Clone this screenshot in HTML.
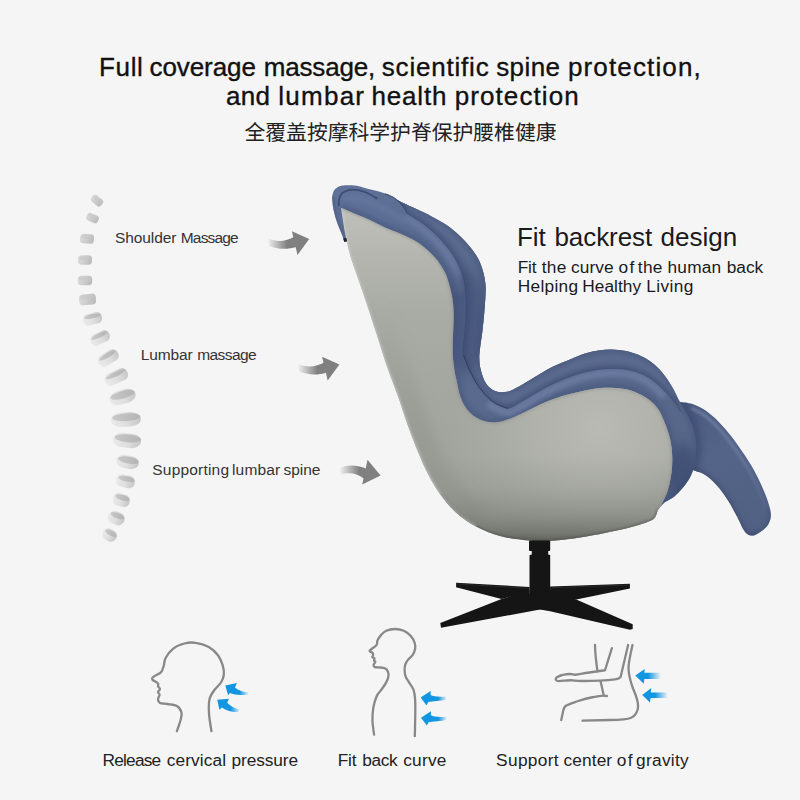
<!DOCTYPE html>
<html lang="en"><head><meta charset="utf-8"><title>Massage chair - fit backrest design</title>
<style>
html,body{margin:0;padding:0}
body{width:800px;height:800px;overflow:hidden;background:#f5f5f5;position:relative;font-family:"Liberation Sans",sans-serif}
.t{position:absolute;left:0;width:800px;height:1em;white-space:nowrap;line-height:1;font-family:"Liberation Sans",sans-serif;font-weight:400;word-spacing:0}
.t span{position:absolute;top:0}
svg{position:absolute;left:0;top:0}
</style></head><body>
<svg width="800" height="800" viewBox="0 0 800 800">
<defs><linearGradient id="gV" x1="0" y1="0" x2="1" y2="0.3"><stop offset="0" stop-color="#e0e0e0"/><stop offset=".5" stop-color="#d0d0d0"/><stop offset="1" stop-color="#bebebe"/></linearGradient><linearGradient id="gW" x1="0" y1="0" x2="1" y2="0"><stop offset="0" stop-color="#eaeaea"/><stop offset=".5" stop-color="#dfdfdf"/><stop offset="1" stop-color="#c6c6c6"/></linearGradient><linearGradient id="gT" x1="0" y1="0" x2="1" y2="0"><stop offset="0" stop-color="#c8c8c8"/><stop offset="1" stop-color="#b4b4b4"/></linearGradient></defs>
<g transform="translate(97 200.5) rotate(40)"><rect x="-6.25" y="-4.00" width="12.5" height="8" rx="2.88" fill="url(#gV)"/><rect x="-5.25" y="-3.20" width="10.0" height="3.36" rx="1.60" fill="#c4c4c4" opacity=".55"/></g>
<g transform="translate(92.5 218) rotate(25)"><rect x="-6.25" y="-4.00" width="12.5" height="8" rx="2.88" fill="url(#gV)"/><rect x="-5.25" y="-3.20" width="10.0" height="3.36" rx="1.60" fill="#c4c4c4" opacity=".55"/></g>
<g transform="translate(87 238.75) rotate(5)"><rect x="-7.00" y="-4.75" width="14" height="9.5" rx="3.42" fill="url(#gV)"/><rect x="-6.00" y="-3.95" width="11.5" height="3.99" rx="1.90" fill="#c4c4c4" opacity=".55"/></g>
<g transform="translate(85 260) rotate(0)"><rect x="-7.00" y="-4.75" width="14" height="9.5" rx="3.42" fill="url(#gV)"/><rect x="-6.00" y="-3.95" width="11.5" height="3.99" rx="1.90" fill="#c4c4c4" opacity=".55"/></g>
<g transform="translate(85 280.5) rotate(0)"><rect x="-7.25" y="-4.75" width="14.5" height="9.5" rx="3.42" fill="url(#gV)"/><rect x="-6.25" y="-3.95" width="12.0" height="3.99" rx="1.90" fill="#c4c4c4" opacity=".55"/></g>
<g transform="translate(87.5 299.5) rotate(-5)"><rect x="-8.50" y="-5.50" width="17" height="11" rx="3.96" fill="url(#gV)"/><rect x="-7.50" y="-4.70" width="14.5" height="4.62" rx="2.20" fill="#c4c4c4" opacity=".55"/></g>
<g transform="translate(92.5 318.75) rotate(-12)"><rect x="-9.75" y="-5.75" width="19.5" height="11.5" rx="4.83" ry="5.75" fill="url(#gW)"/><ellipse cx="0.39" cy="-2.53" rx="8.38" ry="2.19" fill="url(#gT)"/></g>
<g transform="translate(100 338) rotate(-25)"><rect x="-10.25" y="-5.75" width="20.5" height="11.5" rx="4.83" ry="5.75" fill="url(#gW)"/><ellipse cx="0.41" cy="-2.53" rx="8.81" ry="2.19" fill="url(#gT)"/></g>
<g transform="translate(108.25 358) rotate(-30)"><rect x="-11.00" y="-6.00" width="22" height="12" rx="5.04" ry="6.00" fill="url(#gW)"/><ellipse cx="0.44" cy="-2.64" rx="9.46" ry="2.28" fill="url(#gT)"/></g>
<g transform="translate(116.25 377) rotate(-25)"><rect x="-12.25" y="-6.25" width="24.5" height="12.5" rx="5.25" ry="6.25" fill="url(#gW)"/><ellipse cx="0.49" cy="-2.75" rx="10.54" ry="2.38" fill="url(#gT)"/></g>
<g transform="translate(122.5 397) rotate(-15)"><rect x="-13.50" y="-7.00" width="27" height="14" rx="9.72" ry="7.00" fill="url(#gW)"/><ellipse cx="0.54" cy="-2.10" rx="12.42" ry="3.78" fill="url(#gT)"/></g>
<g transform="translate(125.75 419.5) rotate(-3)"><rect x="-15.25" y="-7.25" width="30.5" height="14.5" rx="10.98" ry="7.25" fill="url(#gW)"/><ellipse cx="0.61" cy="-2.17" rx="14.03" ry="3.92" fill="url(#gT)"/></g>
<g transform="translate(127 440.5) rotate(5)"><rect x="-14.25" y="-7.25" width="28.5" height="14.5" rx="10.26" ry="7.25" fill="url(#gW)"/><ellipse cx="0.57" cy="-2.17" rx="13.11" ry="3.92" fill="url(#gT)"/></g>
<g transform="translate(127.5 462) rotate(10)"><rect x="-11.50" y="-6.50" width="23" height="13" rx="8.28" ry="6.50" fill="url(#gW)"/><ellipse cx="0.46" cy="-1.95" rx="10.58" ry="3.51" fill="url(#gT)"/></g>
<g transform="translate(125.5 481.25) rotate(12)"><rect x="-9.50" y="-6.25" width="19" height="12.5" rx="5.75" ry="6.25" fill="url(#gW)"/><ellipse cx="0.38" cy="-2.50" rx="7.98" ry="2.75" fill="url(#gT)"/></g>
<g transform="translate(121.25 500) rotate(18)"><rect x="-8.75" y="-6.25" width="17.5" height="12.5" rx="5.75" ry="6.25" fill="url(#gW)"/><ellipse cx="0.35" cy="-2.50" rx="7.35" ry="2.75" fill="url(#gT)"/></g>
<g transform="translate(116.25 518) rotate(22)"><rect x="-8.50" y="-6.50" width="17" height="13" rx="5.98" ry="6.50" fill="url(#gW)"/><ellipse cx="0.34" cy="-2.60" rx="7.14" ry="2.86" fill="url(#gT)"/></g>
<g transform="translate(109.5 535) rotate(30)"><rect x="-7.50" y="-6.00" width="15" height="12" rx="5.52" ry="6.00" fill="url(#gW)"/><ellipse cx="0.30" cy="-2.40" rx="6.30" ry="2.64" fill="url(#gT)"/></g>
<defs><linearGradient id="gA" gradientUnits="userSpaceOnUse" x1="267" y1="0" x2="287" y2="0"><stop offset="0" stop-color="#808080" stop-opacity="0"/><stop offset="1" stop-color="#808080" stop-opacity="1"/></linearGradient>
<linearGradient id="gA3" gradientUnits="userSpaceOnUse" x1="339" y1="0" x2="359" y2="0"><stop offset="0" stop-color="#808080" stop-opacity="0"/><stop offset="1" stop-color="#808080" stop-opacity="1"/></linearGradient></defs>
<g><path d="M268 238.5C276 242 286 242 294.5 236.5L296.7 246.8C287 250 277 249.2 269 246Z" fill="url(#gA)"/><path d="M291.9 231.2L309.2 238.9L297.5 255Z" fill="#808080"/></g>
<g transform="translate(30.2 125.6)"><path d="M268 238.5C276 242 286 242 294.5 236.5L296.7 246.8C287 250 277 249.2 269 246Z" fill="url(#gA)"/><path d="M291.9 231.2L309.2 238.9L297.5 255Z" fill="#808080"/></g>
<path d="M339.75 468C345 465.3 357 463.8 367.5 469.5L365 479.5C358 473.2 348 472 341.25 474.75Z" fill="url(#gA3)"/><path d="M367.5 459.75L380.6 475.5L362.25 484.5Z" fill="#808080"/>

<defs>
<linearGradient id="gIn" gradientUnits="userSpaceOnUse" x1="340" y1="190" x2="690" y2="480"><stop offset="0" stop-color="#5f7198"/><stop offset=".3" stop-color="#5a6b90"/><stop offset="1" stop-color="#57678a"/></linearGradient>
<linearGradient id="gGray" gradientUnits="userSpaceOnUse" x1="0" y1="208" x2="0" y2="520"><stop offset="0" stop-color="#c0c1bb"/><stop offset=".16" stop-color="#b4b5af"/><stop offset=".33" stop-color="#a9aba5"/><stop offset=".6" stop-color="#a4a6a0"/><stop offset="1" stop-color="#a0a29c"/></linearGradient>
<radialGradient id="gHi" gradientUnits="userSpaceOnUse" cx="600" cy="428" r="150"><stop offset="0" stop-color="#b9bab4" stop-opacity="1"/><stop offset=".45" stop-color="#b3b4ae" stop-opacity=".8"/><stop offset="1" stop-color="#aeb0aa" stop-opacity="0"/></radialGradient>
<linearGradient id="gLeg" gradientUnits="userSpaceOnUse" x1="690" y1="400" x2="760" y2="530"><stop offset="0" stop-color="#4a5a80"/><stop offset=".4" stop-color="#546488"/><stop offset="1" stop-color="#516184"/></linearGradient>
<linearGradient id="gRidge" gradientUnits="userSpaceOnUse" x1="0" y1="405" x2="0" y2="515"><stop offset="0" stop-color="#6d7da2" stop-opacity=".9"/><stop offset=".5" stop-color="#6a7a9f" stop-opacity=".7"/><stop offset="1" stop-color="#65759a" stop-opacity="0"/></linearGradient>
<linearGradient id="gLsh" gradientUnits="userSpaceOnUse" x1="0" y1="300" x2="0" y2="440"><stop offset="0" stop-color="#8a8c86" stop-opacity="0"/><stop offset="1" stop-color="#8a8c86" stop-opacity=".4"/></linearGradient>
<linearGradient id="gShade" gradientUnits="userSpaceOnUse" x1="0" y1="455" x2="0" y2="544"><stop offset="0" stop-color="#8a8c86" stop-opacity="0"/><stop offset=".35" stop-color="#8a8c86" stop-opacity=".25"/><stop offset=".65" stop-color="#7c7e78" stop-opacity=".55"/><stop offset=".88" stop-color="#686a64" stop-opacity=".8"/><stop offset="1" stop-color="#53554e" stop-opacity=".95"/></linearGradient>
<filter id="b05" filterUnits="userSpaceOnUse" x="300" y="150" width="500" height="420"><feGaussianBlur stdDeviation=".5"/></filter>
<filter id="b1" filterUnits="userSpaceOnUse" x="300" y="150" width="500" height="420"><feGaussianBlur stdDeviation="1"/></filter>
<filter id="b2" filterUnits="userSpaceOnUse" x="300" y="150" width="500" height="420"><feGaussianBlur stdDeviation="2"/></filter>
<filter id="b3" filterUnits="userSpaceOnUse" x="300" y="150" width="500" height="420"><feGaussianBlur stdDeviation="3"/></filter>
<filter id="b6" filterUnits="userSpaceOnUse" x="300" y="150" width="500" height="420"><feGaussianBlur stdDeviation="6"/></filter>
<clipPath id="cBlue"><path d="M332.0 197.5C332.2 196.5 332.8 193.1 333.5 191.5C334.2 189.9 335.0 189.0 336.5 188.0C338.0 187.0 339.4 186.0 342.5 185.6C345.6 185.2 350.8 185.1 355.0 185.6C359.2 186.1 362.5 187.4 367.5 188.8C372.5 190.1 379.6 191.5 385.0 193.6C390.4 195.7 395.5 199.3 400.0 201.5C404.5 203.7 407.8 205.1 412.0 207.0C416.2 208.9 420.8 210.9 425.0 213.0C429.2 215.1 432.8 217.1 437.0 219.5C441.2 221.9 445.1 223.7 450.0 227.5C454.9 231.3 461.7 237.5 466.2 242.5C470.8 247.5 474.7 252.7 477.5 257.5C480.3 262.3 481.7 267.0 483.0 271.2C484.3 275.5 484.9 279.5 485.3 283.0C485.7 286.5 485.8 287.8 485.6 292.5C485.5 297.2 484.9 304.8 484.4 311.0C483.9 317.2 483.2 323.7 482.5 330.0C481.8 336.3 480.5 344.1 480.0 348.8C479.5 353.4 479.2 354.5 479.3 358.0C479.4 361.5 479.6 365.8 480.8 370.0C481.9 374.2 483.6 380.0 486.0 383.5C488.4 387.0 491.5 389.6 495.0 391.0C498.5 392.4 503.0 392.5 507.0 391.8C511.0 391.0 514.5 388.9 519.0 386.5C523.5 384.1 528.5 380.8 534.0 377.5C539.5 374.2 546.0 370.0 552.0 367.0C558.0 364.0 564.5 361.8 570.0 359.5C575.5 357.2 580.0 355.1 585.0 353.5C590.0 351.9 595.0 350.8 600.0 350.2C605.0 349.6 610.0 349.4 615.0 349.8C620.0 350.1 625.0 350.6 630.0 352.0C635.0 353.4 640.5 355.5 645.0 358.0C649.5 360.5 653.5 363.8 657.0 367.0C660.5 370.2 663.2 373.8 666.0 377.5C668.8 381.2 671.6 386.2 673.5 389.5C675.4 392.8 675.6 394.0 677.5 397.5C679.4 401.0 682.6 406.2 685.0 410.6C687.4 415.0 689.9 419.4 691.6 423.8C693.3 428.1 694.5 432.5 695.3 436.9C696.1 441.3 696.4 445.3 696.2 450.0C696.1 454.7 695.3 460.6 694.4 465.0C693.5 469.4 692.5 472.5 690.6 476.2C688.7 480.0 685.8 484.1 683.0 487.5C680.2 490.9 676.9 494.4 673.8 496.9C670.6 499.4 667.1 500.3 664.4 502.5C661.7 504.7 658.9 508.8 657.8 510.0L640.0 480.0C626.7 471.7 588.3 439.2 560.0 430.0C531.7 420.8 490.0 446.7 470.0 425.0C450.0 403.3 455.0 331.7 440.0 300.0C425.0 268.3 395.7 244.8 380.0 235.0C364.3 225.2 351.7 240.0 346.0 241.0L343.8 240.6C343.5 239.8 343.5 238.8 342.5 236.0C341.5 233.2 339.0 227.9 337.5 223.8C336.0 219.6 334.7 215.4 333.8 211.0C332.8 206.6 332.3 199.8 332.0 197.5Z"/></clipPath>
<clipPath id="cOuter"><path d="M385.0 193.6C387.5 194.9 395.5 199.3 400.0 201.5C404.5 203.7 407.8 205.1 412.0 207.0C416.2 208.9 420.8 210.9 425.0 213.0C429.2 215.1 432.8 217.1 437.0 219.5C441.2 221.9 445.1 223.7 450.0 227.5C454.9 231.3 461.7 237.5 466.2 242.5C470.8 247.5 474.7 252.7 477.5 257.5C480.3 262.3 481.7 267.0 483.0 271.2C484.3 275.5 484.9 279.5 485.3 283.0C485.7 286.5 485.8 287.8 485.6 292.5C485.5 297.2 484.9 304.8 484.4 311.0C483.9 317.2 483.2 323.7 482.5 330.0C481.8 336.3 480.5 344.1 480.0 348.8C479.5 353.4 479.2 354.5 479.3 358.0C479.4 361.5 479.6 365.8 480.8 370.0C481.9 374.2 483.6 380.0 486.0 383.5C488.4 387.0 491.5 389.6 495.0 391.0C498.5 392.4 503.0 392.5 507.0 391.8C511.0 391.0 514.5 388.9 519.0 386.5C523.5 384.1 528.5 380.8 534.0 377.5C539.5 374.2 546.0 370.0 552.0 367.0C558.0 364.0 564.5 361.8 570.0 359.5C575.5 357.2 580.0 355.1 585.0 353.5C590.0 351.9 595.0 350.8 600.0 350.2C605.0 349.6 610.0 349.4 615.0 349.8C620.0 350.1 625.0 350.6 630.0 352.0C635.0 353.4 640.5 355.5 645.0 358.0C649.5 360.5 653.5 363.8 657.0 367.0C660.5 370.2 663.2 373.8 666.0 377.5C668.8 381.2 671.6 386.2 673.5 389.5C675.4 392.8 676.8 396.2 677.5 397.5L681 412C680.0 410.5 677.2 406.0 675.0 403.0C672.8 400.0 670.5 397.2 667.5 394.0C664.5 390.8 660.8 386.6 657.0 383.5C653.2 380.4 649.5 377.5 645.0 375.2C640.5 373.0 635.0 371.1 630.0 370.0C625.0 368.9 620.0 368.6 615.0 368.5C610.0 368.4 605.0 368.7 600.0 369.2C595.0 369.8 590.0 370.8 585.0 372.0C580.0 373.2 575.5 374.7 570.0 376.8C564.5 378.8 558.0 381.4 552.0 384.2C546.0 387.1 539.5 390.9 534.0 394.0C528.5 397.1 523.2 400.6 519.0 403.0C514.8 405.4 511.5 407.8 508.5 408.2C505.5 408.8 504.0 407.4 501.0 406.0C498.0 404.6 494.2 403.2 490.5 400.0C486.8 396.8 482.0 391.5 478.5 386.5C475.0 381.5 472.0 375.2 469.5 370.0C467.0 364.8 464.6 358.5 463.5 355.0C462.4 351.5 462.8 352.9 463.0 348.8C463.2 344.6 464.5 336.3 465.0 330.0C465.5 323.7 466.1 317.2 466.2 311.0C466.4 304.8 466.0 297.7 465.6 292.5C465.2 287.3 464.5 283.5 463.8 280.0C463.0 276.5 462.9 275.2 461.2 271.2C459.6 267.3 457.1 261.5 453.8 256.2C450.4 251.0 446.0 245.2 441.2 240.0C436.5 234.8 430.6 229.4 425.0 225.0C419.4 220.6 410.4 215.6 407.5 213.8L407.5 213.8C407.0 212.8 405.8 209.9 404.5 208.0C403.2 206.1 401.8 204.2 400.0 202.5C398.2 200.8 396.5 199.0 394.0 197.5C391.5 196.0 386.5 194.2 385.0 193.6Z"/></clipPath>
<clipPath id="cGray"><path d="M341.0 207.8C343.3 208.8 350.2 211.7 355.0 213.8C359.8 215.8 365.0 217.7 370.0 220.0C375.0 222.3 380.0 225.2 385.0 227.5C390.0 229.8 394.4 230.9 400.0 233.5C405.6 236.1 412.9 239.0 418.8 243.0C424.6 247.0 430.6 252.6 435.0 257.5C439.4 262.4 442.8 268.4 445.0 272.5C447.2 276.6 447.2 277.6 448.5 282.0C449.8 286.4 451.6 292.8 452.5 298.8C453.4 304.7 453.7 311.3 453.8 317.5C453.8 323.7 453.2 329.8 453.0 336.0C452.8 342.2 452.6 349.3 452.8 355.0C453.1 360.7 453.9 365.8 454.5 370.0C455.1 374.2 455.5 375.5 456.5 380.0C457.5 384.5 458.6 391.9 460.5 397.0C462.4 402.1 464.8 406.8 468.0 410.5C471.2 414.2 475.5 417.5 480.0 419.5C484.5 421.5 490.0 422.6 495.0 422.5C500.0 422.4 505.0 420.5 510.0 418.8C515.0 417.0 520.0 414.4 525.0 412.0C530.0 409.6 535.0 406.8 540.0 404.5C545.0 402.2 550.0 400.2 555.0 398.5C560.0 396.8 565.0 395.3 570.0 394.0C575.0 392.7 580.0 391.5 585.0 390.5C590.0 389.5 595.0 388.4 600.0 388.0C605.0 387.6 610.0 387.6 615.0 388.0C620.0 388.4 625.0 388.8 630.0 390.2C635.0 391.8 640.5 394.1 645.0 397.0C649.5 399.9 653.8 403.4 657.0 407.5C660.2 411.6 662.2 416.7 664.4 421.9C666.6 427.1 668.7 433.1 670.0 438.8C671.3 444.4 672.0 450.0 672.2 455.6C672.5 461.2 672.2 466.9 671.5 472.5C670.8 478.1 669.5 484.4 668.0 489.4C666.5 494.4 664.2 499.1 662.5 502.5C660.8 505.9 658.6 508.8 657.8 510.0L657.8 510.0C657.5 510.9 656.8 514.0 656.0 515.6C655.2 517.2 655.2 518.0 653.0 519.4C650.8 520.8 647.2 522.2 642.5 523.8C637.8 525.3 631.2 527.2 625.0 528.8C618.8 530.3 612.5 531.5 605.0 533.0C597.5 534.5 588.3 536.2 580.0 537.5C571.7 538.8 562.5 539.9 555.0 540.5C547.5 541.1 540.5 541.1 535.0 541.0C529.5 540.9 527.8 540.6 522.0 539.8C516.2 539.0 507.7 538.2 500.0 536.0C492.3 533.8 483.3 530.4 476.0 526.5C468.7 522.6 462.0 517.9 456.0 512.5C450.0 507.1 444.7 500.4 440.0 494.0C435.3 487.6 431.7 481.0 428.0 474.0C424.3 467.0 421.3 460.0 418.0 452.0C414.7 444.0 411.4 435.5 408.0 426.0C404.6 416.5 400.9 404.7 397.5 395.0C394.1 385.3 391.1 378.4 387.5 368.0C383.9 357.6 379.8 344.0 376.0 332.5C372.2 321.0 368.5 309.4 365.0 299.0C361.5 288.6 357.5 277.3 355.0 270.0C352.5 262.7 351.6 260.7 350.0 255.0C348.4 249.3 346.9 242.2 345.6 236.0C344.4 229.8 343.3 222.2 342.5 217.5C341.7 212.8 341.2 209.4 341.0 207.8Z"/></clipPath>
<clipPath id="cLeg"><path d="M679.5 402.0C681.7 402.3 688.1 402.6 692.5 404.0C696.9 405.4 701.2 407.6 705.6 410.6C710.0 413.6 714.4 417.5 718.8 421.9C723.1 426.3 727.5 431.3 731.9 436.9C736.3 442.5 740.9 449.4 745.0 455.6C749.1 461.9 752.8 467.8 756.2 474.4C759.7 481.0 763.3 489.1 765.6 495.0C767.9 500.9 769.5 505.9 770.3 510.0C771.1 514.1 771.1 516.4 770.3 519.4C769.5 522.4 767.9 525.3 765.6 527.8C763.3 530.3 758.9 533.1 756.2 534.4C753.6 535.6 751.7 535.9 749.7 535.3C747.7 534.7 746.0 533.6 744.0 530.6C742.0 527.6 740.2 522.5 737.5 517.5C734.8 512.5 731.4 505.9 728.0 500.6C724.6 495.3 720.6 489.8 716.9 485.6C713.2 481.4 709.4 477.8 705.6 475.3C701.9 472.8 697.3 471.8 694.4 470.6C691.5 469.4 689.1 468.4 688.0 468.0L684.0 430.0Z"/></clipPath>
</defs>
<!-- legrest -->
<path d="M679.5 402.0C681.7 402.3 688.1 402.6 692.5 404.0C696.9 405.4 701.2 407.6 705.6 410.6C710.0 413.6 714.4 417.5 718.8 421.9C723.1 426.3 727.5 431.3 731.9 436.9C736.3 442.5 740.9 449.4 745.0 455.6C749.1 461.9 752.8 467.8 756.2 474.4C759.7 481.0 763.3 489.1 765.6 495.0C767.9 500.9 769.5 505.9 770.3 510.0C771.1 514.1 771.1 516.4 770.3 519.4C769.5 522.4 767.9 525.3 765.6 527.8C763.3 530.3 758.9 533.1 756.2 534.4C753.6 535.6 751.7 535.9 749.7 535.3C747.7 534.7 746.0 533.6 744.0 530.6C742.0 527.6 740.2 522.5 737.5 517.5C734.8 512.5 731.4 505.9 728.0 500.6C724.6 495.3 720.6 489.8 716.9 485.6C713.2 481.4 709.4 477.8 705.6 475.3C701.9 472.8 697.3 471.8 694.4 470.6C691.5 469.4 689.1 468.4 688.0 468.0L684.0 430.0Z" fill="url(#gLeg)"/>
<g clip-path="url(#cLeg)" fill="none">
<path d="M691.1 408.3C693.1 409.3 699.0 411.5 703.1 414.3C707.1 417.1 711.4 420.9 715.6 425.1C719.8 429.3 724.1 434.2 728.3 439.7C732.6 445.2 737.2 451.9 741.2 458.1C745.2 464.2 748.9 470.1 752.3 476.5C755.6 482.9 759.1 490.9 761.4 496.7C763.7 502.4 765.1 508.5 765.9 510.9" stroke="url(#gRidge)" stroke-width="3.5" filter="url(#b1)"/>
<path d="M756.2 534.4C755.2 534.5 751.7 535.9 749.7 535.3C747.7 534.7 746.0 533.6 744.0 530.6C742.0 527.6 740.2 522.5 737.5 517.5C734.8 512.5 731.4 505.9 728.0 500.6C724.6 495.3 720.6 489.8 716.9 485.6C713.2 481.4 709.4 477.8 705.6 475.3C701.9 472.8 697.3 471.8 694.4 470.6C691.5 469.4 689.1 468.4 688.0 468.0" stroke="#3f4c6e" stroke-width="5" filter="url(#b2)" opacity=".7"/>
<path d="M770.3 510.0C770.3 511.6 771.1 516.4 770.3 519.4C769.5 522.4 767.9 525.3 765.6 527.8C763.3 530.3 758.9 533.1 756.2 534.4C753.6 535.6 750.8 535.1 749.7 535.3" stroke="#3f4c6e" stroke-width="4" filter="url(#b2)" opacity=".6"/>
<path d="M677.5 397.5C678.8 399.7 682.6 406.2 685.0 410.6C687.4 415.0 689.9 419.4 691.6 423.8C693.3 428.1 694.5 432.5 695.3 436.9C696.1 441.3 696.4 445.3 696.2 450.0C696.1 454.7 695.3 460.6 694.4 465.0C693.5 469.4 692.5 472.5 690.6 476.2C688.7 480.0 685.8 484.1 683.0 487.5C680.2 490.9 676.9 494.4 673.8 496.9C670.6 499.4 667.1 500.3 664.4 502.5C661.7 504.7 658.9 508.8 657.8 510.0" stroke="#3a4769" stroke-width="9" filter="url(#b3)" opacity=".7"/>
</g>
<!-- blue body (inner roll colour) -->
<path d="M332.0 197.5C332.2 196.5 332.8 193.1 333.5 191.5C334.2 189.9 335.0 189.0 336.5 188.0C338.0 187.0 339.4 186.0 342.5 185.6C345.6 185.2 350.8 185.1 355.0 185.6C359.2 186.1 362.5 187.4 367.5 188.8C372.5 190.1 379.6 191.5 385.0 193.6C390.4 195.7 395.5 199.3 400.0 201.5C404.5 203.7 407.8 205.1 412.0 207.0C416.2 208.9 420.8 210.9 425.0 213.0C429.2 215.1 432.8 217.1 437.0 219.5C441.2 221.9 445.1 223.7 450.0 227.5C454.9 231.3 461.7 237.5 466.2 242.5C470.8 247.5 474.7 252.7 477.5 257.5C480.3 262.3 481.7 267.0 483.0 271.2C484.3 275.5 484.9 279.5 485.3 283.0C485.7 286.5 485.8 287.8 485.6 292.5C485.5 297.2 484.9 304.8 484.4 311.0C483.9 317.2 483.2 323.7 482.5 330.0C481.8 336.3 480.5 344.1 480.0 348.8C479.5 353.4 479.2 354.5 479.3 358.0C479.4 361.5 479.6 365.8 480.8 370.0C481.9 374.2 483.6 380.0 486.0 383.5C488.4 387.0 491.5 389.6 495.0 391.0C498.5 392.4 503.0 392.5 507.0 391.8C511.0 391.0 514.5 388.9 519.0 386.5C523.5 384.1 528.5 380.8 534.0 377.5C539.5 374.2 546.0 370.0 552.0 367.0C558.0 364.0 564.5 361.8 570.0 359.5C575.5 357.2 580.0 355.1 585.0 353.5C590.0 351.9 595.0 350.8 600.0 350.2C605.0 349.6 610.0 349.4 615.0 349.8C620.0 350.1 625.0 350.6 630.0 352.0C635.0 353.4 640.5 355.5 645.0 358.0C649.5 360.5 653.5 363.8 657.0 367.0C660.5 370.2 663.2 373.8 666.0 377.5C668.8 381.2 671.6 386.2 673.5 389.5C675.4 392.8 675.6 394.0 677.5 397.5C679.4 401.0 682.6 406.2 685.0 410.6C687.4 415.0 689.9 419.4 691.6 423.8C693.3 428.1 694.5 432.5 695.3 436.9C696.1 441.3 696.4 445.3 696.2 450.0C696.1 454.7 695.3 460.6 694.4 465.0C693.5 469.4 692.5 472.5 690.6 476.2C688.7 480.0 685.8 484.1 683.0 487.5C680.2 490.9 676.9 494.4 673.8 496.9C670.6 499.4 667.1 500.3 664.4 502.5C661.7 504.7 658.9 508.8 657.8 510.0L640.0 480.0C626.7 471.7 588.3 439.2 560.0 430.0C531.7 420.8 490.0 446.7 470.0 425.0C450.0 403.3 455.0 331.7 440.0 300.0C425.0 268.3 395.7 244.8 380.0 235.0C364.3 225.2 351.7 240.0 346.0 241.0L343.8 240.6C343.5 239.8 343.5 238.8 342.5 236.0C341.5 233.2 339.0 227.9 337.5 223.8C336.0 219.6 334.7 215.4 333.8 211.0C332.8 206.6 332.3 199.8 332.0 197.5Z" fill="url(#gIn)"/>
<g clip-path="url(#cBlue)" fill="none">
<path d="M341.0 207.8C343.3 208.8 350.2 211.7 355.0 213.8C359.8 215.8 365.0 217.7 370.0 220.0C375.0 222.3 380.0 225.2 385.0 227.5C390.0 229.8 394.4 230.9 400.0 233.5C405.6 236.1 412.9 239.0 418.8 243.0C424.6 247.0 430.6 252.6 435.0 257.5C439.4 262.4 442.8 268.4 445.0 272.5C447.2 276.6 447.2 277.6 448.5 282.0C449.8 286.4 451.6 292.8 452.5 298.8C453.4 304.7 453.7 311.3 453.8 317.5C453.8 323.7 453.2 329.8 453.0 336.0C452.8 342.2 452.6 349.3 452.8 355.0C453.1 360.7 453.9 365.8 454.5 370.0C455.1 374.2 455.5 375.5 456.5 380.0C457.5 384.5 458.6 391.9 460.5 397.0C462.4 402.1 464.8 406.8 468.0 410.5C471.2 414.2 475.5 417.5 480.0 419.5C484.5 421.5 490.0 422.6 495.0 422.5C500.0 422.4 505.0 420.5 510.0 418.8C515.0 417.0 520.0 414.4 525.0 412.0C530.0 409.6 535.0 406.8 540.0 404.5C545.0 402.2 550.0 400.2 555.0 398.5C560.0 396.8 565.0 395.3 570.0 394.0C575.0 392.7 580.0 391.5 585.0 390.5C590.0 389.5 595.0 388.4 600.0 388.0C605.0 387.6 610.0 387.6 615.0 388.0C620.0 388.4 625.0 388.8 630.0 390.2C635.0 391.8 640.5 394.1 645.0 397.0C649.5 399.9 653.8 403.4 657.0 407.5C660.2 411.6 662.2 416.7 664.4 421.9C666.6 427.1 668.7 433.1 670.0 438.8C671.3 444.4 672.0 450.0 672.2 455.6C672.5 461.2 672.2 466.9 671.5 472.5C670.8 478.1 669.5 484.4 668.0 489.4C666.5 494.4 664.2 499.1 662.5 502.5C660.8 505.9 658.6 508.8 657.8 510.0" stroke="#46567c" stroke-width="9" filter="url(#b2)" opacity=".55"/>
<path d="M677.5 397.5C678.8 399.7 682.6 406.2 685.0 410.6C687.4 415.0 689.9 419.4 691.6 423.8C693.3 428.1 694.5 432.5 695.3 436.9C696.1 441.3 696.4 445.3 696.2 450.0C696.1 454.7 695.3 460.6 694.4 465.0C693.5 469.4 692.5 472.5 690.6 476.2C688.7 480.0 685.8 484.1 683.0 487.5C680.2 490.9 676.9 494.4 673.8 496.9C670.6 499.4 667.1 500.3 664.4 502.5C661.7 504.7 658.9 508.8 657.8 510.0" stroke="#43527a" stroke-width="5" filter="url(#b2)" opacity=".55"/>
<path d="M345.0 198.0C347.5 198.2 355.0 198.0 360.0 199.0C365.0 200.0 370.0 201.8 375.0 204.0C380.0 206.2 385.0 209.2 390.0 212.0C395.0 214.8 402.5 219.5 405.0 221.0" stroke="#6b7ba0" stroke-width="5" filter="url(#b2)" opacity=".6"/>
<path d="M405.1 217.5C407.9 219.4 416.8 224.3 422.2 228.6C427.7 232.8 433.3 238.0 437.9 243.0C442.6 248.1 446.8 253.7 450.0 258.7C453.2 263.7 455.5 269.3 457.1 273.0C458.7 276.7 458.7 277.6 459.3 280.9C460.0 284.2 460.8 290.9 461.1 292.9" stroke="#6c7ca2" stroke-width="6" filter="url(#b2)" opacity=".9"/>
<path d="M487.6 403.4C489.5 404.5 495.5 408.5 499.1 410.1C502.7 411.6 505.6 413.2 509.2 412.7C512.9 412.2 516.7 409.4 521.2 406.9C525.7 404.5 530.8 401.0 536.2 397.9C541.7 394.8 548.1 391.1 553.9 388.3C559.8 385.5 566.2 383.0 571.6 381.0C576.9 379.0 581.3 377.6 586.1 376.4C590.9 375.2 595.7 374.3 600.5 373.7C605.3 373.2 610.1 372.9 614.9 373.0C619.6 373.1 624.3 373.3 629.0 374.4C633.7 375.4 638.8 377.2 643.0 379.3C647.2 381.4 650.6 384.0 654.1 387.0C657.7 389.9 662.5 395.4 664.2 397.1" stroke="#6c7ca1" stroke-width="7" filter="url(#b2)" opacity=".95"/>
<path d="M343.8 240.6C343.5 239.8 343.5 238.8 342.5 236.0C341.5 233.2 339.0 227.9 337.5 223.8C336.0 219.6 334.7 215.4 333.8 211.0C332.8 206.6 332.3 199.8 332.0 197.5" stroke="#4c5c84" stroke-width="6" filter="url(#b1)" opacity=".5"/>
<path d="M338.8 206.0C338.8 205.0 338.7 201.8 339.0 200.0C339.3 198.2 339.7 196.8 340.5 195.5C341.3 194.2 341.8 193.0 343.8 192.0C345.8 191.0 349.0 189.6 352.5 189.6C356.0 189.6 360.8 190.5 365.0 192.0C369.2 193.5 375.4 197.6 377.5 198.8" stroke="#3a4970" stroke-width="1.8" filter="url(#b05)" opacity=".9"/>
<path d="M385.0 193.6C386.5 194.2 391.5 196.0 394.0 197.5C396.5 199.0 398.2 200.8 400.0 202.5C401.8 204.2 403.2 206.1 404.5 208.0C405.8 209.9 407.0 212.8 407.5 213.8" stroke="#36456b" stroke-width="1.4" filter="url(#b05)" opacity=".9"/>
</g>
<!-- outer roll -->
<path d="M385.0 193.6C387.5 194.9 395.5 199.3 400.0 201.5C404.5 203.7 407.8 205.1 412.0 207.0C416.2 208.9 420.8 210.9 425.0 213.0C429.2 215.1 432.8 217.1 437.0 219.5C441.2 221.9 445.1 223.7 450.0 227.5C454.9 231.3 461.7 237.5 466.2 242.5C470.8 247.5 474.7 252.7 477.5 257.5C480.3 262.3 481.7 267.0 483.0 271.2C484.3 275.5 484.9 279.5 485.3 283.0C485.7 286.5 485.8 287.8 485.6 292.5C485.5 297.2 484.9 304.8 484.4 311.0C483.9 317.2 483.2 323.7 482.5 330.0C481.8 336.3 480.5 344.1 480.0 348.8C479.5 353.4 479.2 354.5 479.3 358.0C479.4 361.5 479.6 365.8 480.8 370.0C481.9 374.2 483.6 380.0 486.0 383.5C488.4 387.0 491.5 389.6 495.0 391.0C498.5 392.4 503.0 392.5 507.0 391.8C511.0 391.0 514.5 388.9 519.0 386.5C523.5 384.1 528.5 380.8 534.0 377.5C539.5 374.2 546.0 370.0 552.0 367.0C558.0 364.0 564.5 361.8 570.0 359.5C575.5 357.2 580.0 355.1 585.0 353.5C590.0 351.9 595.0 350.8 600.0 350.2C605.0 349.6 610.0 349.4 615.0 349.8C620.0 350.1 625.0 350.6 630.0 352.0C635.0 353.4 640.5 355.5 645.0 358.0C649.5 360.5 653.5 363.8 657.0 367.0C660.5 370.2 663.2 373.8 666.0 377.5C668.8 381.2 671.6 386.2 673.5 389.5C675.4 392.8 676.8 396.2 677.5 397.5L681 412C680.0 410.5 677.2 406.0 675.0 403.0C672.8 400.0 670.5 397.2 667.5 394.0C664.5 390.8 660.8 386.6 657.0 383.5C653.2 380.4 649.5 377.5 645.0 375.2C640.5 373.0 635.0 371.1 630.0 370.0C625.0 368.9 620.0 368.6 615.0 368.5C610.0 368.4 605.0 368.7 600.0 369.2C595.0 369.8 590.0 370.8 585.0 372.0C580.0 373.2 575.5 374.7 570.0 376.8C564.5 378.8 558.0 381.4 552.0 384.2C546.0 387.1 539.5 390.9 534.0 394.0C528.5 397.1 523.2 400.6 519.0 403.0C514.8 405.4 511.5 407.8 508.5 408.2C505.5 408.8 504.0 407.4 501.0 406.0C498.0 404.6 494.2 403.2 490.5 400.0C486.8 396.8 482.0 391.5 478.5 386.5C475.0 381.5 472.0 375.2 469.5 370.0C467.0 364.8 464.6 358.5 463.5 355.0C462.4 351.5 462.8 352.9 463.0 348.8C463.2 344.6 464.5 336.3 465.0 330.0C465.5 323.7 466.1 317.2 466.2 311.0C466.4 304.8 466.0 297.7 465.6 292.5C465.2 287.3 464.5 283.5 463.8 280.0C463.0 276.5 462.9 275.2 461.2 271.2C459.6 267.3 457.1 261.5 453.8 256.2C450.4 251.0 446.0 245.2 441.2 240.0C436.5 234.8 430.6 229.4 425.0 225.0C419.4 220.6 410.4 215.6 407.5 213.8L407.5 213.8C407.0 212.8 405.8 209.9 404.5 208.0C403.2 206.1 401.8 204.2 400.0 202.5C398.2 200.8 396.5 199.0 394.0 197.5C391.5 196.0 386.5 194.2 385.0 193.6Z" fill="#556587"/>
<g clip-path="url(#cOuter)" fill="none">
<path d="M405.0 206.0C408.3 208.0 418.3 213.8 425.0 218.0C431.7 222.2 439.2 226.2 445.0 231.0C450.8 235.8 455.7 241.7 460.0 247.0C464.3 252.3 468.4 257.5 471.0 263.0C473.6 268.5 474.7 274.5 475.5 280.0C476.3 285.5 476.1 290.7 476.0 296.0C475.9 301.3 475.4 306.3 475.0 312.0C474.6 317.7 474.1 324.0 473.5 330.0C472.9 336.0 471.8 343.0 471.5 348.0C471.2 353.0 471.2 355.8 472.0 360.0C472.8 364.2 474.0 368.3 476.0 373.0C478.0 377.7 481.0 384.0 484.0 388.0C487.0 392.0 490.3 395.1 494.0 397.0C497.7 398.9 501.8 399.8 506.0 399.5C510.2 399.2 514.3 397.2 519.0 395.0C523.7 392.8 528.5 389.2 534.0 386.0C539.5 382.8 546.0 379.0 552.0 376.0C558.0 373.0 564.5 370.2 570.0 368.0C575.5 365.8 580.0 364.3 585.0 363.0C590.0 361.7 595.0 360.7 600.0 360.0C605.0 359.3 610.0 358.8 615.0 359.0C620.0 359.2 625.0 359.8 630.0 361.0C635.0 362.2 640.5 364.2 645.0 366.5C649.5 368.8 653.3 371.8 657.0 375.0C660.7 378.2 664.2 382.5 667.0 386.0C669.8 389.5 672.8 394.3 674.0 396.0" stroke="#607197" stroke-width="7" filter="url(#b3)" opacity=".7"/>
<path d="M385.0 193.6C386.5 194.2 391.5 196.0 394.0 197.5C396.5 199.0 398.2 200.8 400.0 202.5C401.8 204.2 403.2 206.1 404.5 208.0C405.8 209.9 407.0 212.8 407.5 213.8L407.5 213.8C410.4 215.6 419.4 220.6 425.0 225.0C430.6 229.4 436.5 234.8 441.2 240.0C446.0 245.2 450.4 251.0 453.8 256.2C457.1 261.5 459.6 267.3 461.2 271.2C462.9 275.2 463.0 276.5 463.8 280.0C464.5 283.5 465.2 287.3 465.6 292.5C466.0 297.7 466.4 304.8 466.2 311.0C466.1 317.2 465.5 323.7 465.0 330.0C464.5 336.3 463.2 344.6 463.0 348.8C462.8 352.9 462.4 351.5 463.5 355.0C464.6 358.5 467.0 364.8 469.5 370.0C472.0 375.2 475.0 381.5 478.5 386.5C482.0 391.5 486.8 396.8 490.5 400.0C494.2 403.2 498.0 404.6 501.0 406.0C504.0 407.4 505.5 408.8 508.5 408.2C511.5 407.8 514.8 405.4 519.0 403.0C523.2 400.6 528.5 397.1 534.0 394.0C539.5 390.9 546.0 387.1 552.0 384.2C558.0 381.4 564.5 378.8 570.0 376.8C575.5 374.7 580.0 373.2 585.0 372.0C590.0 370.8 595.0 369.8 600.0 369.2C605.0 368.7 610.0 368.4 615.0 368.5C620.0 368.6 625.0 368.9 630.0 370.0C635.0 371.1 640.5 373.0 645.0 375.2C649.5 377.5 653.2 380.4 657.0 383.5C660.8 386.6 664.5 390.8 667.5 394.0C670.5 397.2 672.8 400.0 675.0 403.0C677.2 406.0 680.0 410.5 681.0 412.0" stroke="#3f4e74" stroke-width="6" filter="url(#b2)" opacity=".6"/>
<path d="M385.0 193.6C387.5 194.9 395.5 199.3 400.0 201.5C404.5 203.7 407.8 205.1 412.0 207.0C416.2 208.9 420.8 210.9 425.0 213.0C429.2 215.1 432.8 217.1 437.0 219.5C441.2 221.9 445.1 223.7 450.0 227.5C454.9 231.3 461.7 237.5 466.2 242.5C470.8 247.5 474.7 252.7 477.5 257.5C480.3 262.3 481.7 267.0 483.0 271.2C484.3 275.5 484.9 279.5 485.3 283.0C485.7 286.5 485.8 287.8 485.6 292.5C485.5 297.2 484.9 304.8 484.4 311.0C483.9 317.2 483.2 323.7 482.5 330.0C481.8 336.3 480.5 344.1 480.0 348.8C479.5 353.4 479.2 354.5 479.3 358.0C479.4 361.5 479.6 365.8 480.8 370.0C481.9 374.2 483.6 380.0 486.0 383.5C488.4 387.0 491.5 389.6 495.0 391.0C498.5 392.4 503.0 392.5 507.0 391.8C511.0 391.0 514.5 388.9 519.0 386.5C523.5 384.1 528.5 380.8 534.0 377.5C539.5 374.2 546.0 370.0 552.0 367.0C558.0 364.0 564.5 361.8 570.0 359.5C575.5 357.2 580.0 355.1 585.0 353.5C590.0 351.9 595.0 350.8 600.0 350.2C605.0 349.6 610.0 349.4 615.0 349.8C620.0 350.1 625.0 350.6 630.0 352.0C635.0 353.4 640.5 355.5 645.0 358.0C649.5 360.5 653.5 363.8 657.0 367.0C660.5 370.2 663.2 373.8 666.0 377.5C668.8 381.2 671.6 386.2 673.5 389.5C675.4 392.8 676.8 396.2 677.5 397.5" stroke="#48587e" stroke-width="4" filter="url(#b2)" opacity=".55"/>
</g>
<g clip-path="url(#cBlue)"><ellipse cx="466" cy="322" rx="20" ry="52" fill="#3b4a70" opacity=".5" filter="url(#b6)"/><ellipse cx="683" cy="478" rx="14" ry="36" fill="#36456b" opacity=".6" filter="url(#b6)"/></g>
<path d="M385.0 193.6C386.5 194.2 391.5 196.0 394.0 197.5C396.5 199.0 398.2 200.8 400.0 202.5C401.8 204.2 403.2 206.1 404.5 208.0C405.8 209.9 407.0 212.8 407.5 213.8L407.5 213.8C410.4 215.6 419.4 220.6 425.0 225.0C430.6 229.4 436.5 234.8 441.2 240.0C446.0 245.2 450.4 251.0 453.8 256.2C457.1 261.5 459.6 267.3 461.2 271.2C462.9 275.2 463.0 276.5 463.8 280.0C464.5 283.5 465.2 287.3 465.6 292.5C466.0 297.7 466.4 304.8 466.2 311.0C466.1 317.2 465.5 323.7 465.0 330.0C464.5 336.3 463.2 344.6 463.0 348.8C462.8 352.9 462.4 351.5 463.5 355.0C464.6 358.5 467.0 364.8 469.5 370.0C472.0 375.2 475.0 381.5 478.5 386.5C482.0 391.5 486.8 396.8 490.5 400.0C494.2 403.2 498.0 404.6 501.0 406.0C504.0 407.4 505.5 408.8 508.5 408.2C511.5 407.8 514.8 405.4 519.0 403.0C523.2 400.6 528.5 397.1 534.0 394.0C539.5 390.9 546.0 387.1 552.0 384.2C558.0 381.4 564.5 378.8 570.0 376.8C575.5 374.7 580.0 373.2 585.0 372.0C590.0 370.8 595.0 369.8 600.0 369.2C605.0 368.7 610.0 368.4 615.0 368.5C620.0 368.6 625.0 368.9 630.0 370.0C635.0 371.1 640.5 373.0 645.0 375.2C649.5 377.5 653.2 380.4 657.0 383.5C660.8 386.6 664.5 390.8 667.5 394.0C670.5 397.2 672.8 400.0 675.0 403.0C677.2 406.0 680.0 410.5 681.0 412.0" fill="none" stroke="#3a4870" stroke-width=".9" opacity=".55"/>
<path d="M463.5 355.0C464.5 357.5 467.0 364.8 469.5 370.0C472.0 375.2 475.0 381.5 478.5 386.5C482.0 391.5 486.8 396.8 490.5 400.0C494.2 403.2 498.0 404.6 501.0 406.0C504.0 407.4 507.2 407.9 508.5 408.2" fill="none" stroke="#2c3858" stroke-width=".9" opacity=".85"/>
<!-- gray shell -->
<path d="M341.0 207.8C343.3 208.8 350.2 211.7 355.0 213.8C359.8 215.8 365.0 217.7 370.0 220.0C375.0 222.3 380.0 225.2 385.0 227.5C390.0 229.8 394.4 230.9 400.0 233.5C405.6 236.1 412.9 239.0 418.8 243.0C424.6 247.0 430.6 252.6 435.0 257.5C439.4 262.4 442.8 268.4 445.0 272.5C447.2 276.6 447.2 277.6 448.5 282.0C449.8 286.4 451.6 292.8 452.5 298.8C453.4 304.7 453.7 311.3 453.8 317.5C453.8 323.7 453.2 329.8 453.0 336.0C452.8 342.2 452.6 349.3 452.8 355.0C453.1 360.7 453.9 365.8 454.5 370.0C455.1 374.2 455.5 375.5 456.5 380.0C457.5 384.5 458.6 391.9 460.5 397.0C462.4 402.1 464.8 406.8 468.0 410.5C471.2 414.2 475.5 417.5 480.0 419.5C484.5 421.5 490.0 422.6 495.0 422.5C500.0 422.4 505.0 420.5 510.0 418.8C515.0 417.0 520.0 414.4 525.0 412.0C530.0 409.6 535.0 406.8 540.0 404.5C545.0 402.2 550.0 400.2 555.0 398.5C560.0 396.8 565.0 395.3 570.0 394.0C575.0 392.7 580.0 391.5 585.0 390.5C590.0 389.5 595.0 388.4 600.0 388.0C605.0 387.6 610.0 387.6 615.0 388.0C620.0 388.4 625.0 388.8 630.0 390.2C635.0 391.8 640.5 394.1 645.0 397.0C649.5 399.9 653.8 403.4 657.0 407.5C660.2 411.6 662.2 416.7 664.4 421.9C666.6 427.1 668.7 433.1 670.0 438.8C671.3 444.4 672.0 450.0 672.2 455.6C672.5 461.2 672.2 466.9 671.5 472.5C670.8 478.1 669.5 484.4 668.0 489.4C666.5 494.4 664.2 499.1 662.5 502.5C660.8 505.9 658.6 508.8 657.8 510.0L657.8 510.0C657.5 510.9 656.8 514.0 656.0 515.6C655.2 517.2 655.2 518.0 653.0 519.4C650.8 520.8 647.2 522.2 642.5 523.8C637.8 525.3 631.2 527.2 625.0 528.8C618.8 530.3 612.5 531.5 605.0 533.0C597.5 534.5 588.3 536.2 580.0 537.5C571.7 538.8 562.5 539.9 555.0 540.5C547.5 541.1 540.5 541.1 535.0 541.0C529.5 540.9 527.8 540.6 522.0 539.8C516.2 539.0 507.7 538.2 500.0 536.0C492.3 533.8 483.3 530.4 476.0 526.5C468.7 522.6 462.0 517.9 456.0 512.5C450.0 507.1 444.7 500.4 440.0 494.0C435.3 487.6 431.7 481.0 428.0 474.0C424.3 467.0 421.3 460.0 418.0 452.0C414.7 444.0 411.4 435.5 408.0 426.0C404.6 416.5 400.9 404.7 397.5 395.0C394.1 385.3 391.1 378.4 387.5 368.0C383.9 357.6 379.8 344.0 376.0 332.5C372.2 321.0 368.5 309.4 365.0 299.0C361.5 288.6 357.5 277.3 355.0 270.0C352.5 262.7 351.6 260.7 350.0 255.0C348.4 249.3 346.9 242.2 345.6 236.0C344.4 229.8 343.3 222.2 342.5 217.5C341.7 212.8 341.2 209.4 341.0 207.8Z" fill="url(#gGray)"/>
<g clip-path="url(#cGray)" fill="none">
<rect x="430" y="270" width="260" height="280" fill="url(#gHi)"/>
<path d="M476.0 526.5C472.7 524.2 462.0 517.9 456.0 512.5C450.0 507.1 444.7 500.4 440.0 494.0C435.3 487.6 431.7 481.0 428.0 474.0C424.3 467.0 421.3 460.0 418.0 452.0C414.7 444.0 411.4 435.5 408.0 426.0C404.6 416.5 400.9 404.7 397.5 395.0C394.1 385.3 391.1 378.4 387.5 368.0C383.9 357.6 379.8 344.0 376.0 332.5C372.2 321.0 368.5 309.4 365.0 299.0C361.5 288.6 356.7 274.8 355.0 270.0" stroke="url(#gLsh)" stroke-width="44" filter="url(#b6)"/>
<rect x="400" y="450" width="280" height="100" fill="url(#gShade)"/>
<path d="M657.8 510.0C657.5 510.9 656.8 514.0 656.0 515.6C655.2 517.2 655.2 518.0 653.0 519.4C650.8 520.8 647.2 522.2 642.5 523.8C637.8 525.3 631.2 527.2 625.0 528.8C618.8 530.3 612.5 531.5 605.0 533.0C597.5 534.5 588.3 536.2 580.0 537.5C571.7 538.8 562.5 539.9 555.0 540.5C547.5 541.1 540.5 541.1 535.0 541.0C529.5 540.9 527.8 540.6 522.0 539.8C516.2 539.0 507.7 538.2 500.0 536.0C492.3 533.8 483.3 530.4 476.0 526.5C468.7 522.6 462.0 517.9 456.0 512.5C450.0 507.1 442.7 497.1 440.0 494.0" stroke="#4e504b" stroke-width="2.5" filter="url(#b1)" opacity=".55"/>
<path d="M476.0 526.5C472.7 524.2 462.0 517.9 456.0 512.5C450.0 507.1 444.7 500.4 440.0 494.0C435.3 487.6 431.7 481.0 428.0 474.0C424.3 467.0 421.3 460.0 418.0 452.0C414.7 444.0 411.4 435.5 408.0 426.0C404.6 416.5 400.9 404.7 397.5 395.0C394.1 385.3 391.1 378.4 387.5 368.0C383.9 357.6 379.8 344.0 376.0 332.5C372.2 321.0 368.5 309.4 365.0 299.0C361.5 288.6 357.5 277.3 355.0 270.0C352.5 262.7 351.6 260.7 350.0 255.0C348.4 249.3 346.9 242.2 345.6 236.0C344.4 229.8 343.3 222.2 342.5 217.5C341.7 212.8 341.2 209.4 341.0 207.8" stroke="#d0d2ce" stroke-width="3" filter="url(#b1)" opacity=".5"/>
<path d="M341.0 207.8C343.3 208.8 350.2 211.7 355.0 213.8C359.8 215.8 365.0 217.7 370.0 220.0C375.0 222.3 380.0 225.2 385.0 227.5C390.0 229.8 394.4 230.9 400.0 233.5C405.6 236.1 412.9 239.0 418.8 243.0C424.6 247.0 430.6 252.6 435.0 257.5C439.4 262.4 442.8 268.4 445.0 272.5C447.2 276.6 447.2 277.6 448.5 282.0C449.8 286.4 451.6 292.8 452.5 298.8C453.4 304.7 453.7 311.3 453.8 317.5C453.8 323.7 453.2 329.8 453.0 336.0C452.8 342.2 452.6 349.3 452.8 355.0C453.1 360.7 453.9 365.8 454.5 370.0C455.1 374.2 455.5 375.5 456.5 380.0C457.5 384.5 458.6 391.9 460.5 397.0C462.4 402.1 464.8 406.8 468.0 410.5C471.2 414.2 475.5 417.5 480.0 419.5C484.5 421.5 490.0 422.6 495.0 422.5C500.0 422.4 505.0 420.5 510.0 418.8C515.0 417.0 520.0 414.4 525.0 412.0C530.0 409.6 535.0 406.8 540.0 404.5C545.0 402.2 550.0 400.2 555.0 398.5C560.0 396.8 565.0 395.3 570.0 394.0C575.0 392.7 580.0 391.5 585.0 390.5C590.0 389.5 595.0 388.4 600.0 388.0C605.0 387.6 610.0 387.6 615.0 388.0C620.0 388.4 625.0 388.8 630.0 390.2C635.0 391.8 640.5 394.1 645.0 397.0C649.5 399.9 653.8 403.4 657.0 407.5C660.2 411.6 662.2 416.7 664.4 421.9C666.6 427.1 668.7 433.1 670.0 438.8C671.3 444.4 672.0 450.0 672.2 455.6C672.5 461.2 672.2 466.9 671.5 472.5C670.8 478.1 669.5 484.4 668.0 489.4C666.5 494.4 664.2 499.1 662.5 502.5C660.8 505.9 658.6 508.8 657.8 510.0" stroke="#8b8d89" stroke-width="3" filter="url(#b1)" opacity=".45"/>
</g>
<path d="M343.4 238.3L346.4 238L347 241.6L344.2 242Z" fill="#1d222f"/>
<!-- base -->
<g fill="#151515">
<rect x="529" y="540.5" width="21.2" height="10.4" rx="1"/>
<rect x="531.75" y="550" width="16.5" height="6"/>
<path d="M529.5 555.8q0-1 1-1h18.7q1 0 1 1V604q-10.3 11-20.7 0z"/>
<path d="M456.1 582.65L529.5 587L529.5 592L501.5 598.9L456.1 587.2Z"/>
<path d="M440.3 623L501.5 598.9L529.5 590.6L531 604L540 609.6L441 627.8Z"/>
<path d="M550.1 586.5L629.9 583.75L629.9 588.6L576.3 599.6L550.1 597Z"/>
<path d="M550.1 590L576.3 599.6L632.7 624.3L632.7 629.1L629.9 629.8L550.1 611.3L540 609.6Z"/>
</g>
<path d="M458 584L528 588.3" stroke="#2a2a2a" stroke-width="1" fill="none"/>
<path d="M552 587.6L628 585" stroke="#2a2a2a" stroke-width="1" fill="none"/>


<defs>
<linearGradient id="gB1" gradientUnits="userSpaceOnUse" x1="239.5" y1="0" x2="249.5" y2="0"><stop offset="0" stop-color="#1296e2"/><stop offset="1" stop-color="#1296e2" stop-opacity="0"/></linearGradient>
<linearGradient id="gB2" gradientUnits="userSpaceOnUse" x1="231" y1="0" x2="240.5" y2="0"><stop offset="0" stop-color="#1296e2"/><stop offset="1" stop-color="#1296e2" stop-opacity="0"/></linearGradient>
<linearGradient id="gB3" gradientUnits="userSpaceOnUse" x1="438" y1="0" x2="447" y2="0"><stop offset="0" stop-color="#1296e2"/><stop offset="1" stop-color="#1296e2" stop-opacity="0"/></linearGradient>
<linearGradient id="gB5" gradientUnits="userSpaceOnUse" x1="648" y1="0" x2="661" y2="0"><stop offset="0" stop-color="#1296e2"/><stop offset="1" stop-color="#1296e2" stop-opacity="0"/></linearGradient>
<linearGradient id="gB6" gradientUnits="userSpaceOnUse" x1="655" y1="0" x2="668" y2="0"><stop offset="0" stop-color="#1296e2"/><stop offset="1" stop-color="#1296e2" stop-opacity="0"/></linearGradient>
</defs>
<path d="M176.9 731.2C177.5 729.4 179.8 723.1 180.6 720.0C181.4 716.9 182.1 714.8 181.5 712.5C180.9 710.2 179.2 707.4 176.9 706.0C174.6 704.6 170.3 704.5 167.5 704.0C164.7 703.5 161.6 703.8 160.0 703.0C158.4 702.2 158.1 700.8 158.0 699.4C157.9 698.0 159.6 695.9 159.6 694.7C159.6 693.5 157.9 693.0 158.0 692.0C158.1 691.0 160.0 690.0 160.0 689.0C160.0 688.0 158.3 687.2 158.0 686.2C157.7 685.3 158.9 684.5 158.0 683.4C157.1 682.3 153.3 680.8 152.5 679.7C151.7 678.6 152.0 678.1 153.4 676.9C154.8 675.6 159.3 674.1 161.0 672.2C162.7 670.3 163.0 668.0 163.8 665.6C164.5 663.2 164.1 660.8 165.6 658.0C167.1 655.2 169.9 651.2 173.0 648.8C176.1 646.3 180.6 644.5 184.4 643.5C188.2 642.5 191.5 642.2 195.6 642.8C199.7 643.3 205.0 644.8 208.8 646.9C212.5 649.0 215.7 652.2 218.0 655.3C220.3 658.4 221.8 662.3 222.8 665.6C223.8 668.9 224.1 672.2 223.8 675.0C223.4 677.8 222.6 680.0 221.0 682.5C219.4 685.0 216.3 687.4 214.4 690.0C212.5 692.6 210.6 695.3 209.7 698.4C208.8 701.5 208.8 705.1 208.8 708.8C208.8 712.4 209.2 716.2 209.7 720.0C210.2 723.8 211.2 729.4 211.5 731.2" fill="none" stroke="#888888" stroke-width="2.3" stroke-linecap="round" stroke-linejoin="round"/>
<path d="M225.3 685.6L236.9 683.1L235 687.5C237 689.5 242 692 249 692.5L248 694.5C241 695.6 234 695 230 693.1L228.1 695.3Z" fill="url(#gB1)"/>
<path d="M217.2 699.7L229 698.75L227.2 702.5C229 705 234 708.5 240 709.5L238 712C232 712.3 225 710 221.9 707.5L219.4 709.7Z" fill="url(#gB2)"/>
<path d="M374.1 734.6C373.8 732.3 372.6 725.2 372.5 720.8C372.4 716.3 372.6 711.9 373.3 707.8C374.0 703.6 375.5 698.9 376.8 696.0C378.1 693.1 379.4 692.5 381.0 690.2C382.6 688.0 385.0 684.7 386.2 682.4C387.5 680.1 388.1 678.0 388.4 676.2C388.7 674.5 388.5 673.2 388.0 671.9C387.5 670.6 386.6 669.3 385.4 668.6C384.2 667.9 382.8 667.8 381.0 667.5C379.2 667.2 376.1 667.5 374.9 667.1C373.7 666.7 373.5 665.8 373.6 664.9C373.7 664.0 375.2 662.5 375.3 661.8C375.4 661.1 374.1 661.1 374.0 660.5C373.9 659.9 374.7 658.9 374.4 658.3C374.1 657.7 372.5 657.5 372.2 657.0C372.0 656.5 373.0 655.9 373.1 655.2C373.2 654.6 373.3 653.8 372.7 653.1C372.1 652.4 369.8 651.6 369.6 650.9C369.4 650.2 370.2 650.1 371.4 649.1C372.6 648.1 375.6 646.2 376.6 644.8C377.6 643.3 376.8 642.0 377.5 640.4C378.2 638.8 379.5 636.7 381.0 635.1C382.5 633.5 383.9 631.8 386.2 630.8C388.6 629.7 392.1 629.0 395.0 629.0C397.9 629.0 401.1 629.6 403.8 630.8C406.4 631.9 408.9 634.0 410.8 636.0C412.6 638.0 414.0 640.8 414.7 643.0C415.4 645.2 415.5 647.1 415.1 649.1C414.7 651.1 413.7 653.5 412.5 655.2C411.3 657.0 409.3 658.1 408.1 659.6C406.9 661.1 406.1 662.4 405.5 664.0C404.9 665.6 404.6 667.2 404.6 669.2C404.6 671.3 404.8 674.1 405.5 676.2C406.2 678.4 407.7 680.2 409.0 682.4C410.3 684.6 412.4 686.8 413.4 689.4C414.4 692.0 414.7 694.9 415.0 698.0C415.3 701.1 415.3 703.4 415.3 707.8C415.3 712.1 415.2 719.3 415.1 724.0C415.0 728.7 414.8 734.2 414.8 736.2" fill="none" stroke="#888888" stroke-width="2.3" stroke-linecap="round" stroke-linejoin="round"/>
<path d="M420.65 697.5L430.6 691L430.6 695.1C433 696.6 439 697 446 696.5L446 699.8C440 700.8 433 701.5 428.2 702L426.5 705.4Z" fill="url(#gB3)"/>
<g transform="translate(0.35 20.2)"><path d="M420.65 697.5L430.6 691L430.6 695.1C433 696.6 439 697 446 696.5L446 699.8C440 700.8 433 701.5 428.2 702L426.5 705.4Z" fill="url(#gB3)"/></g>
<path d="M632.5 645C630.5 654 628.3 663 628.5 668.5C628.8 676 631 683 633.1 688.75C635.5 694.5 638 699.5 638.1 706.25C638.2 712 634.5 716.5 631.25 717.8C627 719.6 620 720 610 720L582.5 720.6" fill="none" stroke="#888888" stroke-width="2.3" stroke-linecap="round" stroke-linejoin="round"/>
<path d="M628.1 645L620.6 676.9Q619.5 678.8 615 679.4C605 680.6 590 681 581.25 681C576 681 574 680.2 571.25 680.25C568 680.3 566 680.7 563.75 680.7C560 681.2 558 681.3 557 680.8C555.2 680 555.3 677.8 557.5 676.9C559.5 675.8 561 675.3 562.5 675C565 674.4 567.5 674 570 674C572 674 573.5 674.8 575 674.75C579 674.4 583 673.4 587.5 672.75L605 670.25L611.9 648.1" fill="none" stroke="#888888" stroke-width="2.3" stroke-linecap="round" stroke-linejoin="round"/>
<path d="M595 645Q595.2 656 597.5 671.25" fill="none" stroke="#888888" stroke-width="2.3" stroke-linecap="round" stroke-linejoin="round"/>
<path d="M600.6 681.25L603.75 695.6L606.9 696" fill="none" stroke="#888888" stroke-width="2.3" stroke-linecap="round" stroke-linejoin="round"/>
<path d="M603.75 695.6C599 696 596 696.6 592.5 697.25C587 698.3 582 699.8 577.5 701.25C573 702.8 569 704 566.25 705.6C564 707 563.6 709 563.1 711.25L561.25 720" fill="none" stroke="#888888" stroke-width="2.3" stroke-linecap="round" stroke-linejoin="round"/>
<path d="M635.3 675.6L644.7 669L644.4 672.8H661V679H644.4L643.75 683.75Z" fill="url(#gB5)"/>
<path d="M642.2 695L651.25 688.1L650.8 692.5H668V698.1H650.6L650 702.5Z" fill="url(#gB6)"/>

</svg>
<svg width="800" height="800" viewBox="0 0 800 800" role="img" aria-label="全覆盖按摩科学护脊保护腰椎健康"><title>全覆盖按摩科学护脊保护腰椎健康</title>
<text x="244.5" y="139.9" font-size="20.8" fill="#222" textLength="312" lengthAdjust="spacing" font-family="&quot;Liberation Sans&quot;, &quot;Noto Sans CJK SC&quot;, sans-serif">全覆盖按摩科学护脊保护腰椎健康</text></svg>
<div class="t" style="top:53.99px;font-size:26px;color:#111;-webkit-text-stroke:0.35px #111;"><span style="left:99.07px;letter-spacing:0.618px">Full</span> <span style="left:149.56px;letter-spacing:-0.093px">coverage</span> <span style="left:263.72px;letter-spacing:-0.166px">massage,</span> <span style="left:381.83px;letter-spacing:0.793px">scientific</span> <span style="left:496.17px;letter-spacing:0.437px">spine</span> <span style="left:567.97px;letter-spacing:1.136px">protection,</span></div>
<div class="t" style="top:82.99px;font-size:26px;color:#111;-webkit-text-stroke:0.35px #111;"><span style="left:225.90px;letter-spacing:0.350px">and</span> <span style="left:278.36px;letter-spacing:1.232px">lumbar</span> <span style="left:371.38px;letter-spacing:0.840px">health</span> <span style="left:454.65px;letter-spacing:1.095px">protection</span></div>
<div class="t" style="top:223.99px;font-size:26px;color:#1a1a1a;"><span style="left:517.07px;letter-spacing:-0.117px">Fit</span> <span style="left:554.41px;letter-spacing:-0.060px">backrest</span> <span style="left:660.56px;letter-spacing:0.003px">design</span></div>
<div class="t" style="top:258.76px;font-size:17.3px;color:#1a1a1a;"><span style="left:517.78px;letter-spacing:-0.207px">Fit</span> <span style="left:541.66px;letter-spacing:0.287px">the</span> <span style="left:571.12px;letter-spacing:0.042px">curve</span> <span style="left:618.41px;letter-spacing:1.446px">of</span> <span style="left:637.87px;letter-spacing:0.287px">the</span> <span style="left:667.53px;letter-spacing:0.208px">human</span> <span style="left:726.69px;letter-spacing:-0.007px">back</span></div>
<div class="t" style="top:277.96px;font-size:17.3px;color:#1a1a1a;"><span style="left:517.78px;letter-spacing:0.277px">Helping</span> <span style="left:582.21px;letter-spacing:0.053px">Healthy</span> <span style="left:646.36px;letter-spacing:0.380px">Living</span></div>
<div class="t" style="top:229.98px;font-size:15.5px;color:#333;"><span style="left:114.90px;letter-spacing:-0.065px">Shoulder</span> <span style="left:180.78px;letter-spacing:-0.830px">Massage</span></div>
<div class="t" style="top:347.28px;font-size:15.5px;color:#333;"><span style="left:140.73px;letter-spacing:-0.114px">Lumbar</span> <span style="left:197.22px;letter-spacing:-0.571px">massage</span></div>
<div class="t" style="top:462.28px;font-size:15.5px;color:#333;"><span style="left:152.30px;letter-spacing:0.193px">Supporting</span> <span style="left:231.98px;letter-spacing:0.178px">lumbar</span> <span style="left:283.47px;letter-spacing:-0.034px">spine</span></div>
<div class="t" style="top:751.86px;font-size:17.3px;color:#222;"><span style="left:102.58px;letter-spacing:-0.798px">Release</span> <span style="left:166.70px;letter-spacing:0.111px">cervical</span> <span style="left:231.48px;letter-spacing:-0.078px">pressure</span></div>
<div class="t" style="top:751.86px;font-size:17.3px;color:#222;"><span style="left:337.78px;letter-spacing:-0.207px">Fit</span> <span style="left:362.16px;letter-spacing:-0.307px">back</span> <span style="left:403.14px;letter-spacing:0.267px">curve</span></div>
<div class="t" style="top:751.86px;font-size:17.3px;color:#222;"><span style="left:496.11px;letter-spacing:0.330px">Support</span> <span style="left:563.62px;letter-spacing:0.092px">center</span> <span style="left:616.69px;letter-spacing:1.446px">of</span> <span style="left:636.04px;letter-spacing:0.299px">gravity</span></div>
</body></html>
